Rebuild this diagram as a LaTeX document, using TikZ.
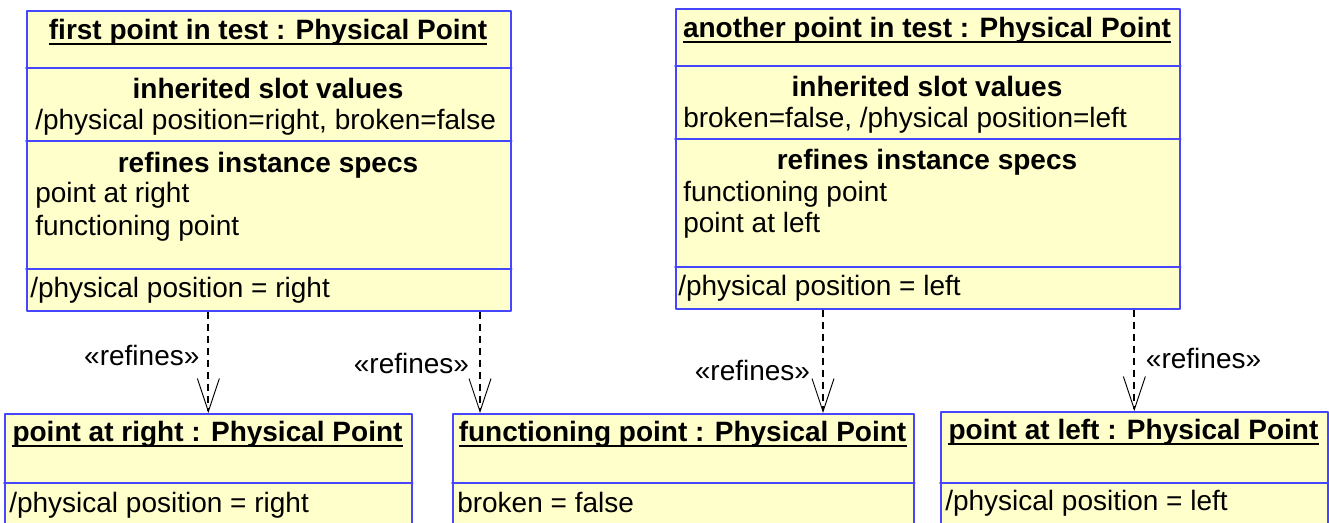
\documentclass[tikz,border=0pt]{standalone}
\usepackage{fontspec}
\setmainfont{Liberation Sans}
\usetikzlibrary{arrows.meta}
\definecolor{ffffcc}{rgb}{1,1,0.8}
\definecolor{uquqff}{rgb}{0.27450980392156865,0.27450980392156865,1}
\tikzset{
  objbox/.style={draw=uquqff,fill=ffffcc,line width=1.3pt,anchor=north west,inner sep=0pt},
  slotline/.style={color=uquqff,line width=1.3pt},
  txt/.style={inner sep=0pt,anchor=base west},
  head/.style={inner sep=0pt,anchor=base,font=\fontsize{21pt}{25pt}\selectfont\bfseries},
  uline/.style={line width=2pt,line cap=butt},
  refines/.style={dash pattern=on 5.25pt off 3.75pt,line width=1.4pt,line cap=butt,-{Straight Barb[length=24.75pt,width=16.5pt,line width=0.7pt]}},
  stereo/.style={inner sep=0pt}
}
\begin{document}
\begin{tikzpicture}[line cap=round,line join=round,x=0.75pt,y=-0.75pt,font=\fontsize{21pt}{25pt}\selectfont]
\useasboundingbox (0,0) rectangle (1329,523);
\clip (0,0) rectangle (1329,523);
\node[objbox,minimum width=363pt,minimum height=225pt] (first) at (26,10) {};
\node[objbox,minimum width=378pt,minimum height=225pt] (another) at (675,8) {};
\node[objbox,minimum width=305.25pt,minimum height=90pt] (atright) at (4,413) {};
\node[objbox,minimum width=345.75pt,minimum height=90pt] (functioning) at (452,413) {};
\node[objbox,minimum width=290.25pt,minimum height=90pt] (atleft) at (940,411) {};
\draw[slotline] (first.west |- 0,68) -- (first.east |- 0,68);
\draw[slotline] (first.west |- 0,141) -- (first.east |- 0,141);
\draw[slotline] (first.west |- 0,269) -- (first.east |- 0,269);
\draw[slotline] (another.west |- 0,66) -- (another.east |- 0,66);
\draw[slotline] (another.west |- 0,139) -- (another.east |- 0,139);
\draw[slotline] (another.west |- 0,267) -- (another.east |- 0,267);
\draw[slotline] (atright.west |- 0,483) -- (atright.east |- 0,483);
\draw[slotline] (functioning.west |- 0,483) -- (functioning.east |- 0,483);
\draw[slotline] (atleft.west |- 0,483) -- (atleft.east |- 0,483);
\node[head] (firsttitle) at (268,40) {first point in test : Physical Point};
\node[head] (firstinh) at (268,99) {inherited slot values};
\node[txt] (firstinhval) at (35,130) {/physical position=right, broken=false};
\node[head] (firstref) at (268,173) {refines instance specs};
\node[txt] (firstref1) at (35,203) {point at right};
\node[txt] (firstref2) at (35,236) {functioning point};
\node[txt] (firstslot) at (30,298) {/physical position = right};
\node[head] (anothertitle) at (927,38) {another point in test : Physical Point};
\node[head] (anotherinh) at (927,97) {inherited slot values};
\node[txt] (anotherinhval) at (683,128) {broken=false, /physical position=left};
\node[head] (anotherref) at (927,170) {refines instance specs};
\node[txt] (anotherref1) at (683,202) {functioning point};
\node[txt] (anotherref2) at (683,233) {point at left};
\node[txt] (anotherslot) at (678,296) {/physical position = left};
\node[head] (atrighttitle) at (207.5,442) {point at right : Physical Point};
\node[txt] (atrightslot) at (9,513) {/physical position = right};
\node[head] (functioningtitle) at (682.5,442) {functioning point : Physical Point};
\node[txt] (functioningslot) at (457,513) {broken = false};
\node[head] (atlefttitle) at (1133.5,440) {point at left : Physical Point};
\node[txt] (atleftslot) at (945,511) {/physical position = left};
\foreach \t in {firsttitle,anothertitle,atrighttitle,functioningtitle,atlefttitle}
  \draw[uline] ([yshift=-3pt]\t.base west) -- ([yshift=-3pt]\t.base east);
\draw[refines] (first.south -| atright.north) -- (atright.north)
  node[stereo,pos=0.53,anchor=base east,xshift=-6pt] (ref1) {«refines»};
\draw[refines] (first.south -| 480,0) -- (functioning.north -| 480,0)
  node[stereo,pos=0.61,anchor=base east,xshift=-7.5pt] (ref2) {«refines»};
\draw[refines] (another.south -| 823,0) -- (functioning.north -| 823,0)
  node[stereo,pos=0.69,anchor=base east,xshift=-9pt] (ref3) {«refines»};
\draw[refines] (another.south -| atleft.north) -- (atleft.north)
  node[stereo,pos=0.58,anchor=base west,xshift=8pt] (ref4) {«refines»};
\end{tikzpicture}
\end{document}
